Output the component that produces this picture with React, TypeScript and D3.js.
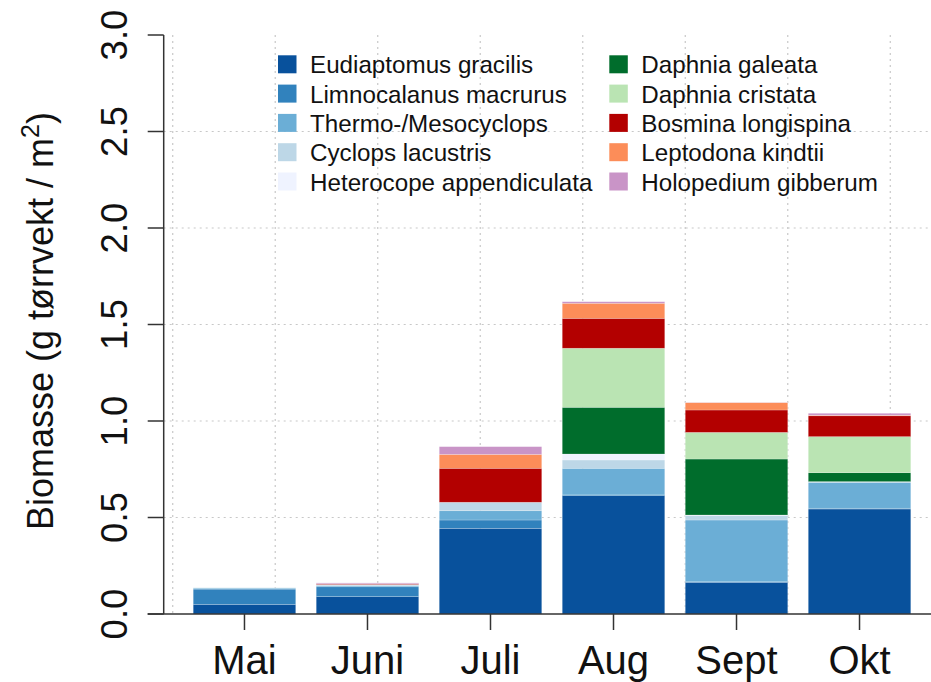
import React from "react";
import * as d3 from "d3";

const months = ["Mai", "Juni", "Juli", "Aug", "Sept", "Okt"];

const species = [
  "Eudiaptomus gracilis",
  "Limnocalanus macrurus",
  "Thermo-/Mesocyclops",
  "Cyclops lacustris",
  "Heterocope appendiculata",
  "Daphnia galeata",
  "Daphnia cristata",
  "Bosmina longispina",
  "Leptodona kindtii",
  "Holopedium gibberum",
];

const colors = [
  "#08519c",
  "#3182bd",
  "#6baed6",
  "#bdd7e7",
  "#eff3ff",
  "#006d2c",
  "#bae4b3",
  "#b30000",
  "#fc8d59",
  "#c994c7",
];

// biomass per species, one value per month (Mai..Okt)
const eudiaptomus = [0.05, 0.09, 0.444, 0.613, 0.164, 0.544];
const limnocalanus = [0.079, 0.051, 0.043, 0.004, 0.003, 0.004];
const thermo = [0.005, 0.006, 0.048, 0.138, 0.32, 0.134];
const cyclops = [0.002, 0.006, 0.044, 0.043, 0.024, 0.004];
const heterocope = [0, 0, 0, 0.031, 0.002, 0];
const daphniaGaleata = [0, 0, 0, 0.242, 0.29, 0.046];
const daphniaCristata = [0, 0, 0, 0.306, 0.138, 0.187];
const bosmina = [0, 0.003, 0.176, 0.155, 0.116, 0.108];
const leptodona = [0, 0.001, 0.072, 0.078, 0.038, 0.003];
const holopedium = [0, 0.004, 0.04, 0.008, 0.001, 0.01];

const seriesValues = [
  eudiaptomus,
  limnocalanus,
  thermo,
  cyclops,
  heterocope,
  daphniaGaleata,
  daphniaCristata,
  bosmina,
  leptodona,
  holopedium,
];

const yTicks = [0, 0.5, 1, 1.5, 2, 2.5, 3];
const gridX = [0, 1, 2, 3, 4, 5, 6, 7];
const gridY = [0.5, 1, 1.5, 2, 2.5];

export default function App() {
  const W = 931;
  const H = 682;
  const font = "'Liberation Sans', Arial, Helvetica, sans-serif";

  // R barplot coordinates: bar i centered at 0.7 + 1.2*i, width 1
  const centers = months.map((_, i) => 0.7 + 1.2 * i);
  const x = d3.scaleLinear().domain([-0.088, 7.688]).range([163.7, 960.8]);
  const y = d3.scaleLinear().domain([0, 3]).range([614, 35]);

  const table = months.map((m, i) => {
    const row: Record<string, number | string> = { month: m };
    species.forEach((s, j) => (row[s] = seriesValues[j][i]));
    return row;
  });
  const stack = d3.stack<any>().keys(species)(table as any);

  const legendRows = 5;
  const legX = [278, 609.3];
  const legY0 = 64.3;
  const legDy = 29.3;

  return (
    <svg
      width={W}
      height={H}
      style={{ position: "absolute", left: 0, top: 0, background: "#fff" }}
      fontFamily={font}
    >
      {/* grid */}
      {gridX.map((g) => (
        <line
          key={"gx" + g}
          x1={x(g)}
          x2={x(g)}
          y1={y(3)}
          y2={y(0)}
          stroke="#c8c8c8"
          strokeWidth={1.2}
          strokeDasharray="2,4"
        />
      ))}
      {gridY.map((g) => (
        <line
          key={"gy" + g}
          x1={x(-0.088)}
          x2={W}
          y1={y(g)}
          y2={y(g)}
          stroke="#c8c8c8"
          strokeWidth={1.2}
          strokeDasharray="2,4"
        />
      ))}

      {/* bars */}
      {stack.map((layer, j) => (
        <g key={species[j]} fill={colors[j]}>
          {layer.map((d, i) =>
            d[1] - d[0] > 0 ? (
              <rect
                key={i}
                x={x(centers[i] - 0.5)}
                width={x(centers[i] + 0.5) - x(centers[i] - 0.5)}
                y={y(d[1])}
                height={y(d[0]) - y(d[1])}
                stroke="#ffffff"
                strokeOpacity={0.35}
                strokeWidth={0.6}
              />
            ) : null
          )}
        </g>
      ))}

      {/* y axis */}
      <line x1={x(-0.088)} x2={x(-0.088)} y1={y(3)} y2={y(0)} stroke="#333" strokeWidth={1.5} />
      {yTicks.map((t) => (
        <g key={"yt" + t}>
          <line x1={x(-0.088) - 16} x2={x(-0.088)} y1={y(t)} y2={y(t)} stroke="#333" strokeWidth={1.5} />
          <text
            transform={`translate(127,${y(t)}) rotate(-90)`}
            textAnchor="middle"
            fontSize={36.5}
            fill="#111"
          >
            {t.toFixed(1)}
          </text>
        </g>
      ))}
      <text
        transform={`translate(53,321) rotate(-90)`}
        textAnchor="middle"
        fontSize={36}
        fill="#111"
      >
        Biomasse (g tørrvekt / m
        <tspan fontSize={25} dy={-14}>2</tspan>
        <tspan dy={14}>)</tspan>
      </text>

      {/* x axis */}
      <line x1={x(-0.088) - 16} x2={W} y1={y(0)} y2={y(0)} stroke="#333" strokeWidth={1.5} />
      {months.map((m, i) => (
        <g key={m}>
          <line x1={x(centers[i])} x2={x(centers[i])} y1={y(0)} y2={y(0) + 16} stroke="#333" strokeWidth={1.5} />
          <text x={x(centers[i])} y={674} textAnchor="middle" fontSize={40} fill="#111">
            {m}
          </text>
        </g>
      ))}

      {/* legend */}
      {species.map((s, j) => {
        const col = Math.floor(j / legendRows);
        const row = j % legendRows;
        const cy = legY0 + row * legDy;
        return (
          <g key={"lg" + s}>
            <rect x={legX[col]} y={cy - 9} width={18.5} height={18} fill={colors[j]} />
            <text x={legX[col] + 32} y={cy + 9} fontSize={24.2} fill="#111">
              {s}
            </text>
          </g>
        );
      })}
    </svg>
  );
}
